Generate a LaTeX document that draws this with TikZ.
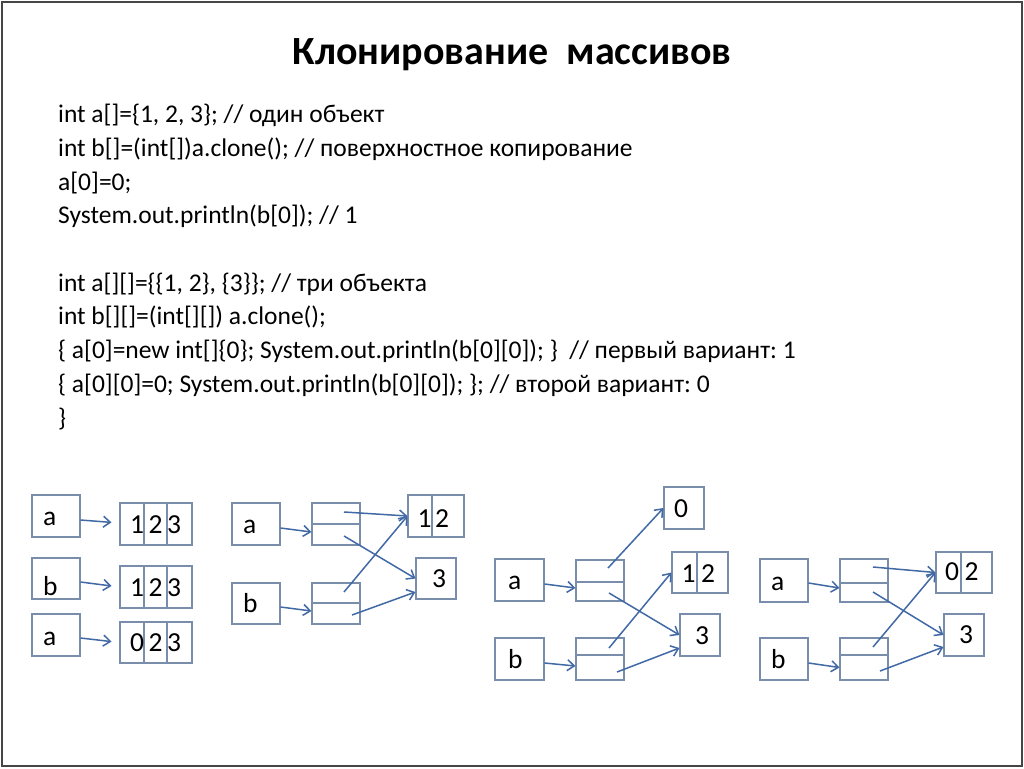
\documentclass[tikz,border=0pt]{standalone}
\usepackage{fontspec}
\setmainfont{Carlito}
\usetikzlibrary{arrows.meta}
\frenchspacing
\definecolor{boxc}{RGB}{120,142,170}
\definecolor{arrc}{RGB}{65,105,165}
\definecolor{framec}{RGB}{70,70,70}
\newcommand\bx[5]{\node[cellbox, minimum width={(#4-#2)*1pt}, minimum height={(#5-#3)*1pt}] (#1) at ({(#2+#4)/2},{(#3+#5)/2}) {};}
\newcommand\dg[4]{\node[lbl, anchor=base] (#1) at (#2,#3) {#4};}
\newcommand\vl[4]{\node[lbl, anchor=base west] (#1) at (#2,#3) {#4};}
\begin{document}
\begin{tikzpicture}[x=1pt,y=-1pt,
  cellbox/.style={draw=boxc, line width=1.1pt, inner sep=0pt},
  lbl/.style={font=\fontsize{27.5}{32}\selectfont, inner sep=0pt},
  ptr/.style={draw=arrc, line width=1.5pt, -{Straight Barb[length=7pt,width=11pt]}},
  code/.style={anchor=base west, inner sep=0pt, font=\fontsize{25.5}{30}\selectfont}]
\useasboundingbox (0,0) rectangle (1024,768);
\fill[white] (0,0) rectangle (1024,768);
\node[draw=framec, line width=2.5pt, minimum width=1020pt, minimum height=764pt, inner sep=0pt] (frame) at (512,384) {};

\node[inner sep=0pt, font=\bfseries\fontsize{40}{46}\selectfont] (title) at (512,55) {Клонирование\hspace{0.45em}массивов};

\node[code] (l1) at (58,122) {int a[]=\{1, 2, 3\}; // один объект};
\node[code] (l2) at (58,156) {int b[]=(int[])a.clone(); // поверхностное копирование};
\node[code] (l3) at (58,190) {a[0]=0;};
\node[code] (l4) at (58,223) {System.out.println(b[0]); // 1};
\node[code] (l5) at (58,291) {int a[][]=\{\{1, 2\}, \{3\}\}; // три объекта};
\node[code] (l6) at (58,324) {int b[][]=(int[][]) a.clone();};
\node[code] (l7) at (58,358) {\{ a[0]=new int[]\{0\}; System.out.println(b[0][0]); \}\ \ // первый вариант: 1};
\node[code] (l8) at (58,392) {\{ a[0][0]=0; System.out.println(b[0][0]); \}; // второй вариант: 0};
\node[code] (l9) at (58,426) {\}};

% ---------- group 1
\bx{A1}{32}{495}{80}{537}
\bx{B1}{32}{558}{80}{599}
\bx{A2}{32}{614}{80}{656}
\bx{c11}{120}{503}{144}{545}\bx{c12}{144}{503}{167}{545}\bx{c13}{167}{503}{192}{545}
\bx{c21}{120}{566}{144}{608}\bx{c22}{144}{566}{167}{608}\bx{c23}{167}{566}{192}{608}
\bx{c31}{120}{622}{144}{663}\bx{c32}{144}{622}{167}{663}\bx{c33}{167}{622}{192}{663}
\vl{A1l}{43}{525}{a}
\vl{B1l}{43}{595}{b}
\vl{A2l}{43}{645}{a}
\dg{d11}{137}{533}{1}\dg{d12}{155.5}{533}{2}\dg{d13}{174}{533}{3}
\dg{d21}{137}{596}{1}\dg{d22}{155.5}{596}{2}\dg{d23}{174}{596}{3}
\dg{d31}{137}{651}{0}\dg{d32}{155.5}{651}{2}\dg{d33}{174}{651}{3}
\draw[ptr, shorten >=8pt] ([yshift=-4pt]A1.east) -- ([yshift=1pt]c11.west);
\draw[ptr, shorten >=8pt] ([yshift=-3.5pt]B1.east) -- (c21.west);
\draw[ptr, shorten >=8pt] ([yshift=-3pt]A2.east) -- (c31.west);

% ---------- group 2
\bx{A3}{232}{503}{280}{545}
\bx{B3}{232}{583}{280}{624}
\bx{M1t}{312}{503}{360}{524}\bx{M1b}{312}{524}{360}{545}
\bx{M2t}{312}{583}{360}{603}\bx{M2b}{312}{603}{360}{624}
\bx{T1a}{408}{495}{432}{537}\bx{T1b}{432}{495}{464}{537}
\bx{T1c}{416}{558}{456}{599}
\vl{A3l}{243}{533}{a}
\vl{B3l}{243}{612}{b}
\dg{e1}{424.5}{527}{1}\dg{e2}{442}{527}{2}\dg{e3}{439}{587}{3}
\coordinate (s1) at (344,512);
\coordinate (s2) at (344,536);
\coordinate (s3) at (344,592);
\coordinate (s4) at (352,615);
\draw[ptr] ([yshift=-4pt]A3.east) -- ([yshift=2.5pt]M1b.west);
\draw[ptr] ([yshift=-3.5pt]B3.east) -- ([yshift=2.5pt]M2b.west);
\draw[ptr] (s1) -- (T1a.west);
\draw[ptr] (s2) -- (T1c.west);
\draw[ptr] (s3) -- (T1a.west);
\draw[ptr] (s4) -- ([yshift=-13.5pt]T1c.west);

% ---------- group 3
\bx{Z0}{664}{487}{704}{529}
\bx{A4}{495}{559}{544}{601}
\bx{B4}{495}{638}{544}{680}
\bx{M3t}{576}{560}{624}{582}\bx{M3b}{576}{582}{624}{601}
\bx{M4t}{576}{638}{624}{655}\bx{M4b}{576}{655}{624}{680}
\bx{T2a}{672}{552}{697}{593}\bx{T2b}{697}{552}{728}{593}
\bx{T2c}{680}{614}{720}{656}
\vl{A4l}{508}{589}{a}
\vl{B4l}{508}{668}{b}
\dg{f0}{681}{517}{0}
\dg{f1}{688.5}{582}{1}\dg{f2}{708}{582}{2}\dg{f3}{702}{644}{3}
\coordinate (s5) at (608,568);
\coordinate (s6) at (609,593);
\coordinate (s7) at (609,648);
\coordinate (s8) at (617,672);
\draw[ptr] ([yshift=-4pt]A4.east) -- ([yshift=3.5pt]M3b.west);
\draw[ptr] ([yshift=-4pt]B4.east) -- ([yshift=1.5pt]M4b.west);
\draw[ptr] (s5) -- (Z0.west);
\draw[ptr] (s6) -- (T2c.west);
\draw[ptr] (s7) -- (T2a.west);
\draw[ptr] (s8) -- ([yshift=-13pt]T2c.west);

% ---------- group 4
\bx{A5}{760}{559}{808}{602}
\bx{B5}{760}{638}{808}{680}
\bx{M5t}{840}{559}{888}{583}\bx{M5b}{840}{583}{888}{602}
\bx{M6t}{840}{638}{888}{655}\bx{M6b}{840}{655}{888}{680}
\bx{T3a}{936}{552}{961}{593}\bx{T3b}{961}{552}{992}{593}
\bx{T3c}{944}{614}{984}{656}
\vl{A5l}{771}{590}{a}
\vl{B5l}{771}{668}{b}
\dg{g0}{952}{580}{0}\dg{g2}{971.5}{580}{2}\dg{g3}{966}{643}{3}
\coordinate (s9) at (873,567);
\coordinate (s10) at (873,592);
\coordinate (s11) at (873,647);
\coordinate (s12) at (880,671);
\draw[ptr] ([yshift=-2.5pt]A5.east) -- ([yshift=4.5pt]M5b.west);
\draw[ptr] ([yshift=-4pt]B5.east) -- (M6b.west);
\draw[ptr] (s9) -- (T3a.west);
\draw[ptr] (s10) -- (T3c.west);
\draw[ptr] (s11) -- (T3a.west);
\draw[ptr] (s12) -- ([yshift=-12pt]T3c.west);
\end{tikzpicture}
\end{document}
